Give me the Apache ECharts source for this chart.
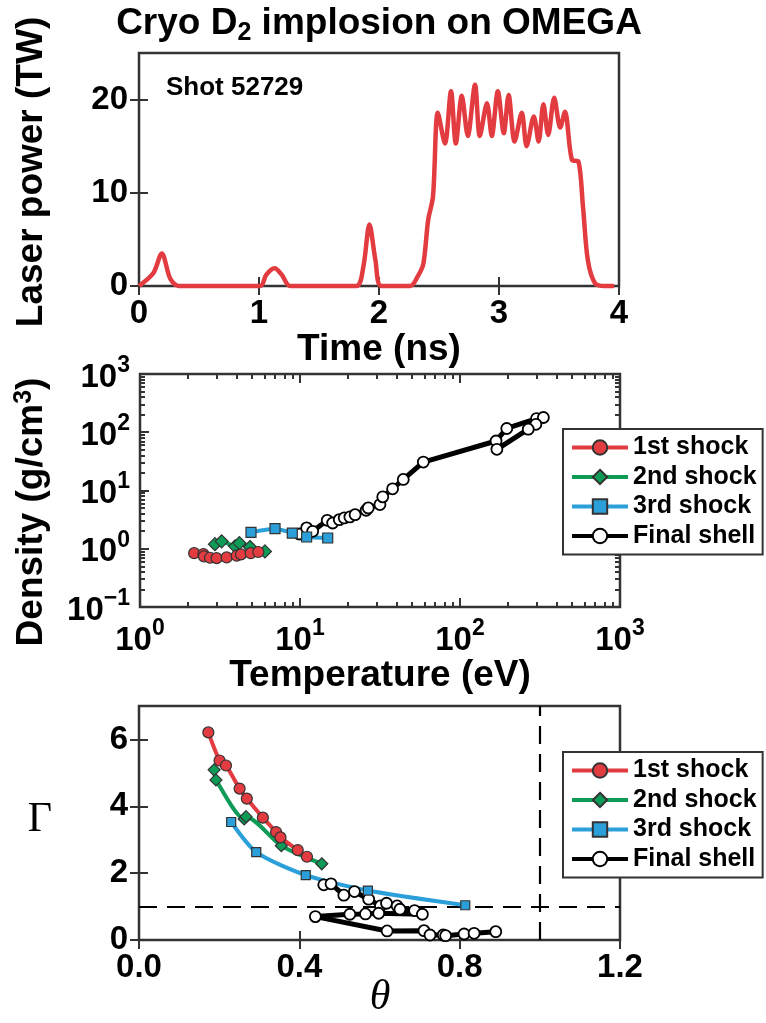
<!DOCTYPE html>
<html>
<head>
<meta charset="utf-8">
<title>Cryo D2 implosion on OMEGA</title>
<script src="https://cdn.jsdelivr.net/npm/echarts@6/dist/echarts.min.js"></script>
<style>
  html, body { margin: 0; padding: 0; background: #fff; }
  #main { width: 766px; height: 1023px; }
</style>
</head>
<body>
<div id="main"></div>
<script>
// ---- top panel: laser pulse shape ----
var timeNs = [0, 0.12, 0.19, 0.26, 0.33, 1.01, 1.06, 1.13, 1.19, 1.26,
  1.81, 1.87, 1.92, 1.97, 2.02, 2.26, 2.33, 2.37, 2.41, 2.45,
  2.49, 2.55, 2.60, 2.64, 2.69, 2.74, 2.80, 2.84, 2.90, 2.94,
  2.99, 3.04, 3.08, 3.13, 3.19, 3.23, 3.29, 3.33, 3.37, 3.41,
  3.46, 3.51, 3.55, 3.61, 3.66, 3.70, 3.74, 3.80, 3.88, 3.96];
var powerTW = [0, 1.4, 3.5, 0.8, 0, 0, 1.2, 1.9, 1.2, 0,
  0, 2.1, 6.6, 2.8, 0, 0, 1.2, 2.4, 7.1, 9.6,
  18.6, 15.3, 20.9, 15.3, 20.4, 16.1, 21.6, 16.1, 19.6, 16.1,
  20.9, 16.4, 20.5, 15.5, 18.6, 15.0, 18.2, 15.5, 19.5, 16.2,
  20.2, 17.0, 18.7, 13.5, 13.4, 8.5, 2.8, 0.3, 0, 0];

// ---- middle panel: density vs temperature ----
var shock1T = [2.18, 2.49, 2.51, 2.74, 3.01, 3.48, 4.02, 4.28, 4.92, 5.49];
var shock1Rho = [0.84, 0.81, 0.74, 0.70, 0.69, 0.71, 0.76, 0.80, 0.84, 0.88];
var shock2T = [2.94, 3.24, 3.93, 4.18, 4.87, 6.04];
var shock2Rho = [1.20, 1.34, 1.10, 1.25, 1.07, 0.90];
var shock3T = [4.94, 6.98, 8.95, 11.0, 14.9];
var shock3Rho = [1.91, 2.21, 1.86, 1.59, 1.53];
var shellT = [9.9, 11.0, 12.0, 14.8, 16.0, 17.6, 18.9, 20.5, 22.1, 25.9,
  26.7, 31.6, 32.9, 37.9, 44.2, 59.0, 168, 196, 301, 332, 298, 267, 170];
var shellRho = [1.79, 2.28, 1.99, 3.08, 2.77, 3.16, 3.38, 3.52, 3.85, 4.58,
  5.03, 5.74, 7.78, 10.7, 15.5, 30.8, 70.8, 116, 172, 179, 137, 113, 50.9];

// ---- bottom panel: coupling vs degeneracy ----
var shock1Theta = [0.173, 0.201, 0.217, 0.251, 0.269, 0.309, 0.342, 0.353, 0.396, 0.419];
var shock1Gamma = [6.21, 5.37, 5.22, 4.53, 4.23, 3.66, 3.23, 3.07, 2.69, 2.49];
var shock2Theta = [0.1875, 0.192, 0.2625, 0.267, 0.355, 0.456];
var shock2Gamma = [5.09, 4.79, 3.62, 3.69, 2.82, 2.28];
var shock3Theta = [0.23, 0.2925, 0.416, 0.571, 0.814];
var shock3Gamma = [3.53, 2.63, 1.94, 1.48, 1.04];
var shellTheta = [0.461, 0.479, 0.511, 0.5375, 0.573, 0.6025, 0.6175, 0.644, 0.651, 0.6875,
  0.707, 0.598, 0.565, 0.526, 0.44, 0.619, 0.711, 0.726, 0.759, 0.765, 0.811, 0.836, 0.89];
var shellGamma = [1.65, 1.68, 1.34, 1.45, 1.22, 1.02, 1.10, 1.02, 0.92, 0.88,
  0.77, 0.80, 0.78, 0.77, 0.70, 0.27, 0.28, 0.15, 0.15, 0.13, 0.18, 0.20, 0.25];
var gammaRef = 1;
var thetaRef = 1;

var seriesNames = ['1st shock', '2nd shock', '3rd shock', 'Final shell'];
var minorT = [2, 3, 4, 5, 6, 7, 8, 9, 20, 30, 40, 50, 60, 70, 80, 90, 200, 300, 400, 500, 600, 700, 800, 900];
var minorRho = [0.2, 0.3, 0.4, 0.5, 0.6, 0.7, 0.8, 0.9, 2, 3, 4, 5, 6, 7, 8, 9,
  20, 30, 40, 50, 60, 70, 80, 90, 200, 300, 400, 500, 600, 700, 800, 900];

var FONT = "'Liberation Sans', Arial, Helvetica, sans-serif";
var RED = '#e23b40', GREEN = '#0e9b57', BLUE = '#2b9fd9';

function pairs(xs, ys) {
  return xs.map(function (x, i) { return [x, ys[i]]; });
}

var myChart = echarts.init(document.getElementById('main'));

var grids = [
  { left: 139, top: 53, width: 480, height: 233 },
  { left: 140, top: 374, width: 480, height: 233 },
  { left: 139, top: 706, width: 481, height: 234 }
];
grids.forEach(function (g) {
  g.show = true;
  g.borderColor = '#333';
  g.borderWidth = 2.5;
  g.backgroundColor = 'transparent';
});

var labelStyle = { fontFamily: FONT, fontWeight: 'bold', fontSize: 33, color: '#000' };
var tickStyle = { color: '#333', width: 2 };

function logLabel(v) {
  var e = Math.round(Math.log10(v));
  return '{b|10}{s|' + (e < 0 ? '\u2212' + (-e) : e) + '}';
}
var logRich = {
  b: { fontFamily: FONT, fontWeight: 'bold', fontSize: 33, color: '#000', lineHeight: 40, verticalAlign: 'bottom' },
  s: { fontFamily: FONT, fontWeight: 'bold', fontSize: 23, color: '#000', lineHeight: 22, verticalAlign: 'top' }
};

function plainAxis(extra) {
  var a = {
    axisLine: { show: false },
    splitLine: { show: false },
    axisTick: { show: true, inside: true, length: 9, lineStyle: tickStyle },
    axisLabel: { show: false }
  };
  for (var k in extra) a[k] = extra[k];
  return a;
}

var xAxes = [
  // top panel
  plainAxis({ gridIndex: 0, type: 'value', position: 'bottom', min: 0, max: 4, interval: 1,
    axisLabel: { show: true, margin: 11, textStyle: labelStyle } }),
  plainAxis({ gridIndex: 0, type: 'value', position: 'top', min: 0, max: 4, interval: 1 }),
  // middle panel (log)
  plainAxis({ gridIndex: 1, type: 'log', logBase: 10, position: 'bottom', min: 1, max: 1000,
    axisLabel: { show: true, margin: 10, color: '#000', formatter: logLabel, rich: logRich } }),
  plainAxis({ gridIndex: 1, type: 'log', logBase: 10, position: 'top', min: 1, max: 1000 }),
  plainAxis({ gridIndex: 1, type: 'log', logBase: 10, position: 'bottom', min: 1, max: 1000,
    axisTick: { show: true, inside: true, length: 5, customValues: minorT, lineStyle: tickStyle } }),
  plainAxis({ gridIndex: 1, type: 'log', logBase: 10, position: 'top', min: 1, max: 1000,
    axisTick: { show: true, inside: true, length: 5, customValues: minorT, lineStyle: tickStyle } }),
  // bottom panel
  plainAxis({ gridIndex: 2, type: 'value', position: 'bottom', min: 0, max: 1.2, interval: 0.4,
    axisLabel: { show: true, margin: 11, textStyle: labelStyle,
      formatter: function (v) { return v.toFixed(1); } } }),
  plainAxis({ gridIndex: 2, type: 'value', position: 'top', min: 0, max: 1.2, interval: 0.4 })
];

var yAxes = [
  plainAxis({ gridIndex: 0, type: 'value', position: 'left', min: 0, max: 25,
    axisTick: { show: true, inside: true, length: 9, customValues: [0, 10, 20], lineStyle: tickStyle },
    axisLabel: { show: true, margin: 11, textStyle: labelStyle, customValues: [0, 10, 20] } }),
  plainAxis({ gridIndex: 0, type: 'value', position: 'right', min: 0, max: 25,
    axisTick: { show: true, inside: true, length: 9, customValues: [0, 10, 20], lineStyle: tickStyle } }),
  plainAxis({ gridIndex: 1, type: 'log', logBase: 10, position: 'left', min: 0.1, max: 1000,
    axisLabel: { show: true, margin: 10, color: '#000', formatter: logLabel, rich: logRich } }),
  plainAxis({ gridIndex: 1, type: 'log', logBase: 10, position: 'right', min: 0.1, max: 1000 }),
  plainAxis({ gridIndex: 1, type: 'log', logBase: 10, position: 'left', min: 0.1, max: 1000,
    axisTick: { show: true, inside: true, length: 5, customValues: minorRho, lineStyle: tickStyle } }),
  plainAxis({ gridIndex: 1, type: 'log', logBase: 10, position: 'right', min: 0.1, max: 1000,
    axisTick: { show: true, inside: true, length: 5, customValues: minorRho, lineStyle: tickStyle } }),
  plainAxis({ gridIndex: 2, type: 'value', position: 'left', min: 0, max: 7,
    axisTick: { show: true, inside: true, length: 9, customValues: [0, 2, 4, 6], lineStyle: tickStyle },
    axisLabel: { show: true, margin: 11, textStyle: labelStyle, customValues: [0, 2, 4, 6] } }),
  plainAxis({ gridIndex: 2, type: 'value', position: 'right', min: 0, max: 7,
    axisTick: { show: true, inside: true, length: 9, customValues: [0, 2, 4, 6], lineStyle: tickStyle } })
];

function markerSeries(name, data, xi, yi, color, symbol, size, lineWidth, fill) {
  return {
    name: name,
    type: 'line',
    xAxisIndex: xi,
    yAxisIndex: yi,
    data: data,
    symbol: symbol,
    symbolSize: size,
    showAllSymbol: true,
    smooth: 0.25,
    lineStyle: { color: color, width: lineWidth },
    itemStyle: { color: fill || color, borderColor: fill ? '#000' : '#333', borderWidth: fill ? 1.8 : 1.2 },
    z: 3
  };
}

var series = [
  {
    name: 'Laser',
    type: 'line',
    xAxisIndex: 0,
    yAxisIndex: 0,
    data: pairs(timeNs, powerTW),
    showSymbol: false,
    smooth: 0.3,
    clip: false,
    lineStyle: { color: RED, width: 4.5 }
  },
  // middle panel
  markerSeries('Final shell', pairs(shellT, shellRho), 2, 2, '#000', 'circle', 11, 5, '#fff'),
  markerSeries('3rd shock', pairs(shock3T, shock3Rho), 2, 2, BLUE, 'rect', 10, 4),
  markerSeries('2nd shock', pairs(shock2T, shock2Rho), 2, 2, GREEN, 'diamond', 13, 4),
  markerSeries('1st shock', pairs(shock1T, shock1Rho), 2, 2, RED, 'circle', 11, 4),
  // bottom panel
  markerSeries('Final shell', pairs(shellTheta, shellGamma), 6, 6, '#000', 'circle', 11, 5, '#fff'),
  markerSeries('3rd shock', pairs(shock3Theta, shock3Gamma), 6, 6, BLUE, 'rect', 9, 4),
  markerSeries('2nd shock', pairs(shock2Theta, shock2Gamma), 6, 6, GREEN, 'diamond', 12, 4),
  markerSeries('1st shock', pairs(shock1Theta, shock1Gamma), 6, 6, RED, 'circle', 11, 4)
];
series[5].markLine = {
  silent: true,
  symbol: 'none',
  label: { show: false },
  lineStyle: { color: '#000', width: 2.2, type: [18, 10] },
  data: [{ yAxis: gammaRef }, { xAxis: thetaRef }],
  z: 1
};
series[5].smooth = false;
series[1].smooth = false;

function legendAt(top) {
  return {
    data: seriesNames,
    orient: 'vertical',
    left: 563,
    top: top,
    backgroundColor: '#fff',
    borderColor: '#333',
    borderWidth: 2,
    padding: [6, 6, 6, 7],
    itemWidth: 56,
    itemHeight: 18,
    itemGap: 4.5,
    selectedMode: false,
    lineStyle: { width: 4 },
    textStyle: { fontFamily: FONT, fontWeight: 'bold', fontSize: 25, color: '#000', lineHeight: 25 }
  };
}

var titleFont = { fontFamily: FONT, fontWeight: 'bold', fontSize: 37, fill: '#000' };
function txt(text, x, y, extra) {
  var style = { text: text, x: 0, y: 0, align: 'center', verticalAlign: 'middle' };
  for (var k in titleFont) style[k] = titleFont[k];
  for (var j in (extra || {})) style[j] = extra[j];
  return { type: 'text', x: x, y: y, style: style, z: 10 };
}

var graphics = [
  txt('Cryo D{sub|2} implosion on OMEGA', 379, 24, {
    rich: { sub: { fontFamily: FONT, fontWeight: 'bold', fontSize: 25, padding: [18, 0, 0, 0] } }
  }),
  txt('Shot 52729', 166, 88, { align: 'left', fontSize: 26 }),
  txt('Time (ns)', 379, 350),
  txt('Temperature (eV)', 380, 676),
  txt('\u0393', 40, 820, { fontFamily: "'Liberation Serif', 'DejaVu Serif', serif", fontWeight: 'normal', fontSize: 42 }),
  txt('\u03b8', 380, 998, { fontFamily: "'Liberation Serif', 'DejaVu Serif', serif", fontWeight: 'normal', fontStyle: 'italic', fontSize: 42 })
];
var laserName = txt('Laser power (TW)', 0, 0);
laserName.x = 32; laserName.y = 172; laserName.rotation = Math.PI / 2;
graphics.push(laserName);
var densName = txt('Density (g/cm{sup|3})', 0, 0, {
  rich: { sup: { fontFamily: FONT, fontWeight: 'bold', fontSize: 25, padding: [0, 0, 16, 0] } }
});
densName.x = 32; densName.y = 512; densName.rotation = Math.PI / 2;
graphics.push(densName);

var option = {
  animation: false,
  backgroundColor: '#fff',
  grid: grids,
  xAxis: xAxes,
  yAxis: yAxes,
  legend: [legendAt(429), legendAt(752)],
  graphic: graphics,
  series: series
};
myChart.setOption(option);
</script>
</body>
</html>
